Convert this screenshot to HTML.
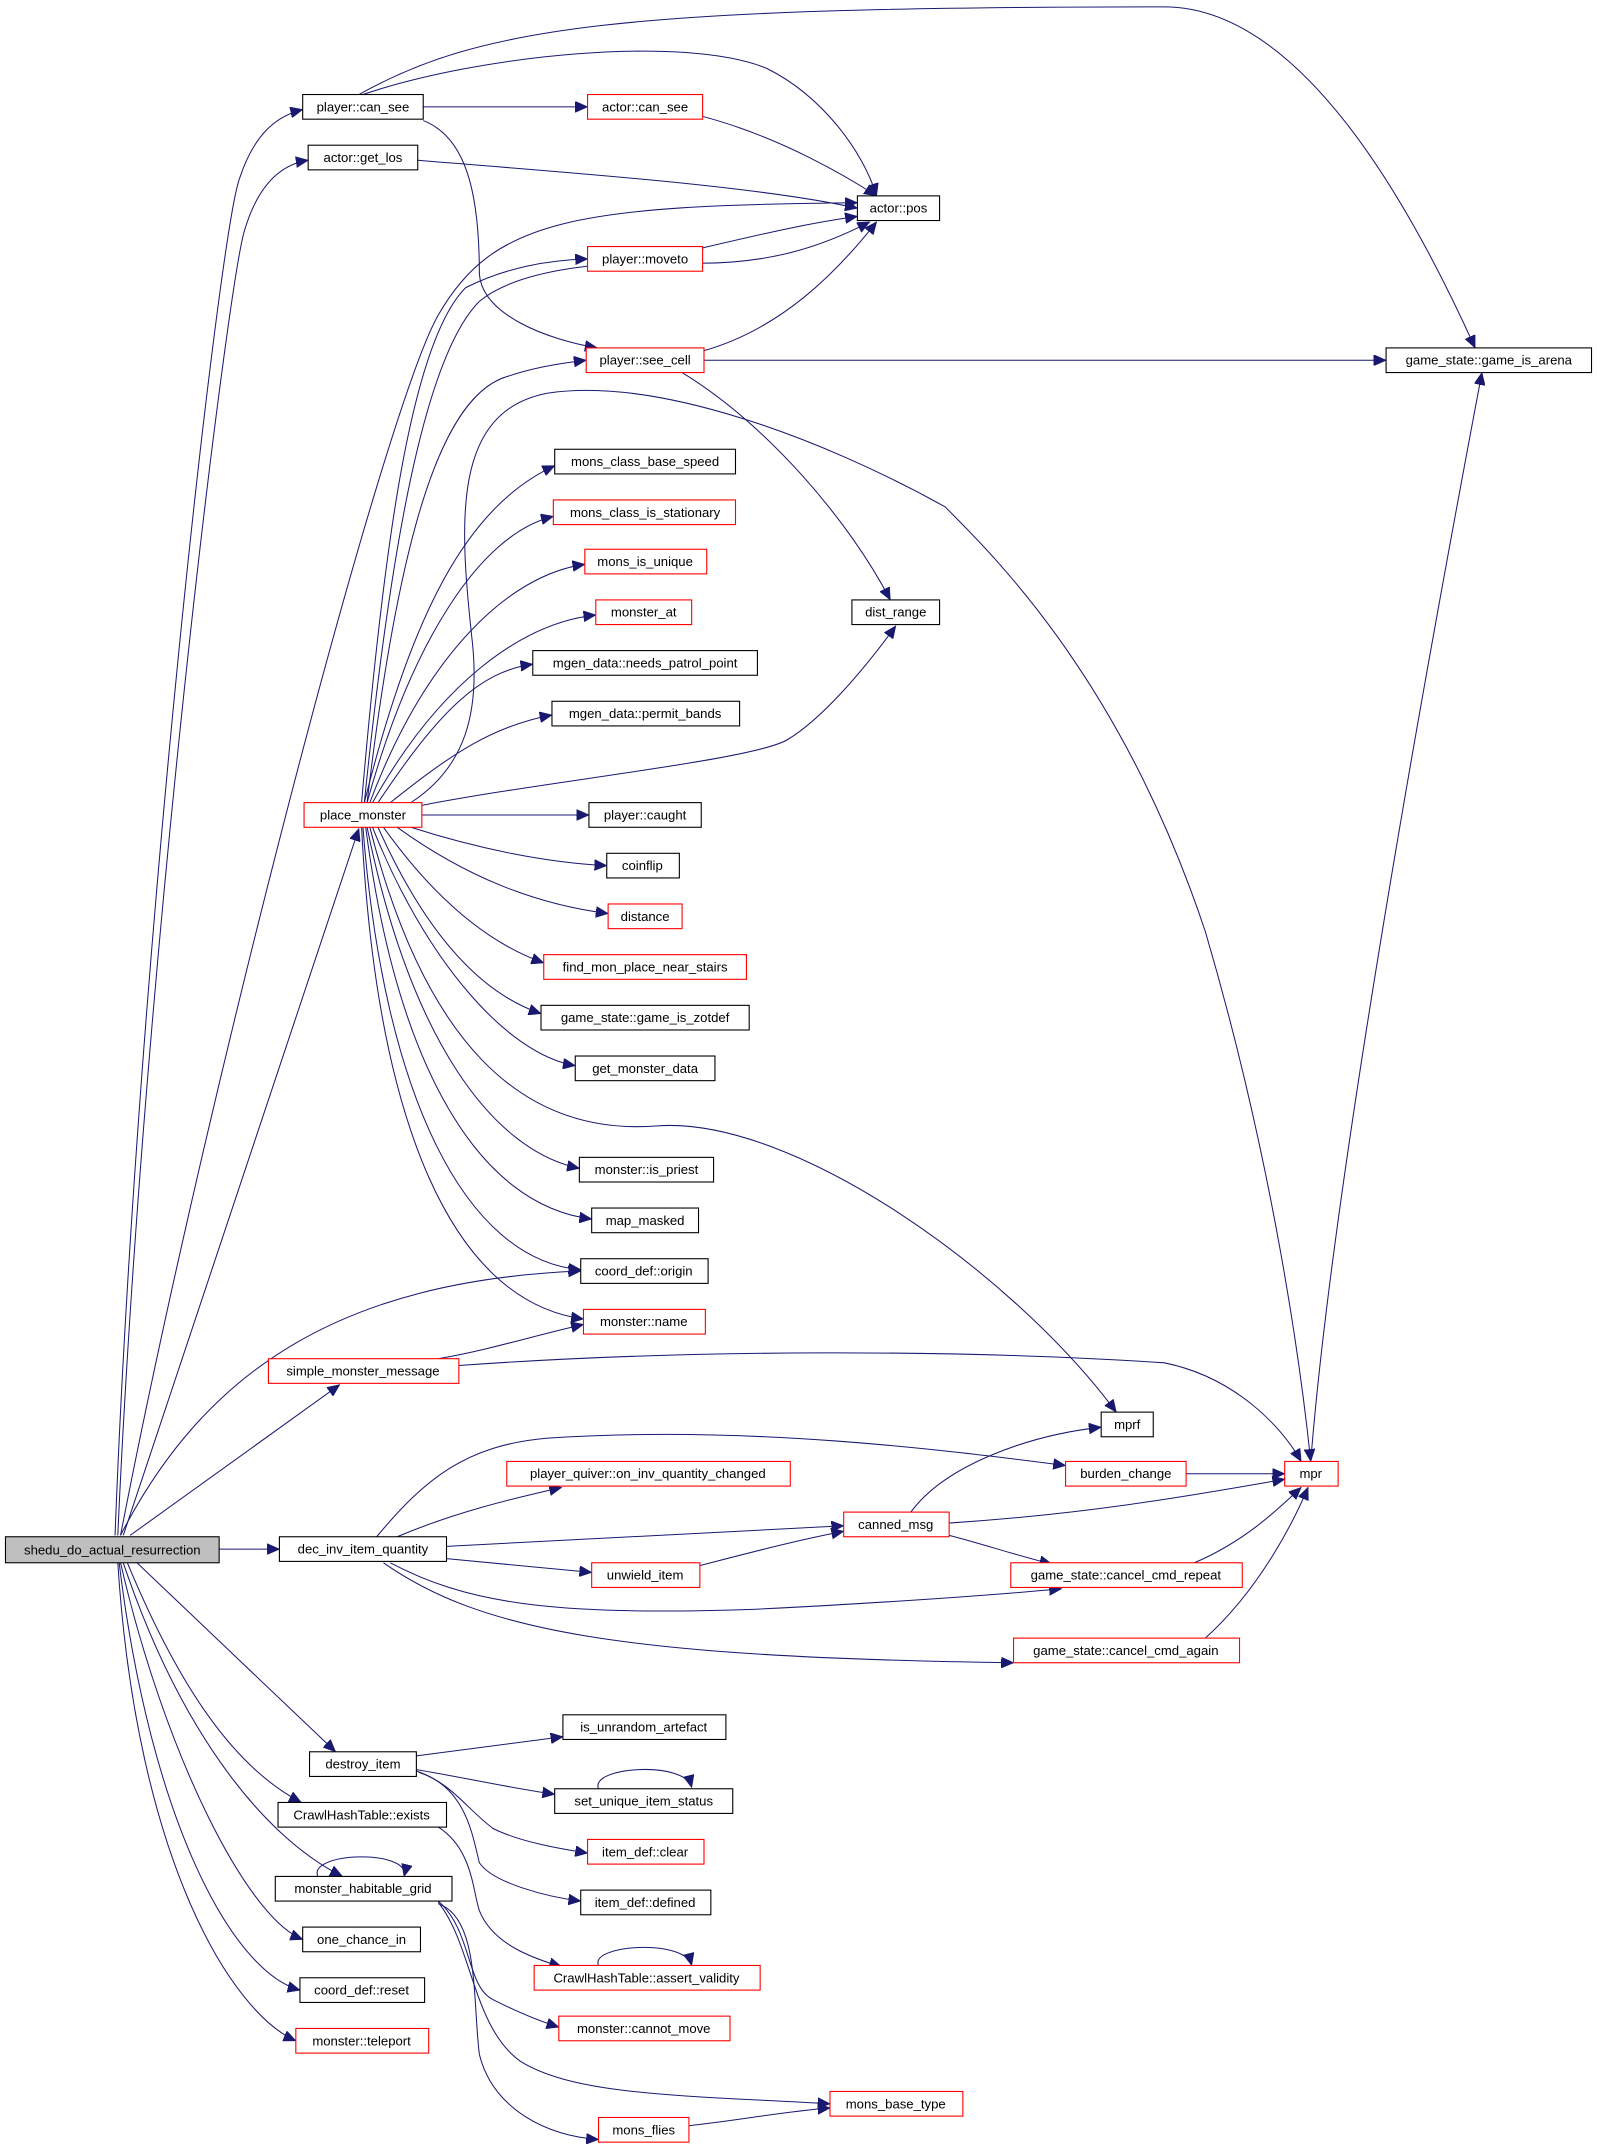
<!DOCTYPE html>
<html><head><meta charset="utf-8"><style>
html,body{margin:0;padding:0;background:#fff;}
svg{display:block;}
text{font-family:"Liberation Sans",sans-serif;font-size:9.6px;fill:#000;text-anchor:middle;dominant-baseline:central;}
.e{fill:none;stroke:#191970;stroke-width:0.75;marker-end:url(#a);}
.n{fill:#fff;stroke:#000;stroke-width:0.8;}
.r{fill:#fff;stroke:#ff0000;stroke-width:0.8;}
.g{fill:#bfbfbf;stroke:#000;stroke-width:0.8;}
</style></head><body>
<svg width="1597" height="2149" viewBox="0 0 1166 1569" xmlns="http://www.w3.org/2000/svg">
<defs><marker id="a" markerUnits="userSpaceOnUse" markerWidth="10" markerHeight="8" refX="9" refY="4" orient="auto"><path d="M0,0 L9,4 L0,8 Z" fill="#191970" stroke="#191970" stroke-width="0.5"/></marker></defs>
<g>
<path class="e" d="M84,1121 C100,700 160,170 175,130 C185,100 200,85 221,80"/>
<path class="e" d="M86,1121 C105,700 165,220 178,170 C188,135 205,120 225,117"/>
<path class="e" d="M88,1121 C150,800 280,300 320,230 C360,160 420,150 626,148"/>
<path class="e" d="M90,1121 L262,605"/>
<path class="e" d="M95,1121 L248,1011"/>
<path class="e" d="M88,1121 C150,1000 250,935 424,928"/>
<path class="e" d="M160,1131 L204,1131"/>
<path class="e" d="M100,1141 L245,1279"/>
<path class="e" d="M93,1141 C130,1230 170,1290 220,1316"/>
<path class="e" d="M90,1141 C130,1260 190,1340 250,1370"/>
<path class="e" d="M88,1141 C120,1280 180,1400 221,1416"/>
<path class="e" d="M87,1141 C110,1330 170,1440 219,1453"/>
<path class="e" d="M86,1141 C100,1360 170,1470 216,1490"/>
<path class="e" d="M309,78 L429,78"/>
<path class="e" d="M262,69 C350,20 450,5 850,5 C950,5 1030,150 1077,254"/>
<path class="e" d="M265,69 C350,40 500,25 560,50 C600,70 630,110 640,143"/>
<path class="e" d="M309,88 C340,100 350,140 350,200 C352,230 400,248 436,254"/>
<path class="e" d="M513,85 C570,100 620,130 640,143"/>
<path class="e" d="M305,117 C400,125 550,135 626,152"/>
<path class="e" d="M513,181 C560,170 590,163 626,158"/>
<path class="e" d="M514,256 C570,240 610,200 640,162"/>
<path class="e" d="M514,263 L1012,263"/>
<path class="e" d="M498,272 C560,310 620,380 650,438"/>
<path class="e" d="M957,1067 C970,900 1020,600 1082,272"/>
<path class="e" d="M264,586 C280,400 300,250 340,210 C370,195 400,190 429,189"/>
<path class="e" d="M266,586 C285,400 310,260 350,220 C380,195 450,190 500,192 C560,194 600,180 635,162"/>
<path class="e" d="M268,586 C290,400 320,290 370,275 C390,268 410,265 428,263"/>
<path class="e" d="M300,586 C340,560 350,520 345,470 C335,380 330,300 400,287 C480,275 600,320 690,370 C730,410 820,500 880,680 C930,850 950,1000 957,1067"/>
<path class="e" d="M266,586 C300,450 340,370 405,340"/>
<path class="e" d="M268,586 C300,470 350,390 404,377"/>
<path class="e" d="M270,586 C310,480 370,420 427,412"/>
<path class="e" d="M272,586 C320,500 380,455 435,449"/>
<path class="e" d="M276,586 C320,520 350,490 389,485"/>
<path class="e" d="M285,586 C330,550 360,530 403,522"/>
<path class="e" d="M308,588 C400,570 550,555 575,540 C600,525 630,490 654,457"/>
<path class="e" d="M308,595 L430,595"/>
<path class="e" d="M300,604 C350,620 400,630 443,632"/>
<path class="e" d="M290,604 C340,640 390,660 444,667"/>
<path class="e" d="M280,604 C320,660 360,690 397,703"/>
<path class="e" d="M276,604 C310,680 350,725 395,740"/>
<path class="e" d="M272,604 C310,700 370,770 420,778"/>
<path class="e" d="M270,604 C310,760 380,830 480,822 C580,815 740,930 815,1031"/>
<path class="e" d="M268,604 C300,760 360,840 423,853"/>
<path class="e" d="M267,604 C290,780 350,880 432,890"/>
<path class="e" d="M265,604 C280,800 340,920 424,927"/>
<path class="e" d="M264,604 C275,820 330,950 426,963"/>
<path class="e" d="M320,992 C360,985 390,975 426,967"/>
<path class="e" d="M335,997 C500,985 700,985 850,995 C900,1005 935,1040 950,1067"/>
<path class="e" d="M290,1122 C330,1105 370,1095 410,1086"/>
<path class="e" d="M275,1122 C310,1080 340,1055 400,1050 C550,1040 700,1060 778,1070"/>
<path class="e" d="M326,1129 L616,1114"/>
<path class="e" d="M326,1138 C370,1142 400,1145 432,1148"/>
<path class="e" d="M285,1141 C340,1170 400,1180 550,1175 C650,1170 720,1165 775,1160"/>
<path class="e" d="M280,1141 C350,1190 450,1210 740,1214"/>
<path class="e" d="M665,1104 C690,1070 750,1048 804,1042"/>
<path class="e" d="M693,1112 C800,1105 880,1090 938,1080"/>
<path class="e" d="M693,1121 C720,1128 740,1135 768,1142"/>
<path class="e" d="M511,1143 C550,1133 580,1125 616,1118"/>
<path class="e" d="M866,1076 L938,1076"/>
<path class="e" d="M872,1141 C910,1125 935,1100 950,1086"/>
<path class="e" d="M880,1196 C920,1160 945,1110 955,1086"/>
<path class="e" d="M304,1282 L411,1268"/>
<path class="e" d="M304,1292 C340,1298 370,1305 405,1310"/>
<path class="e" d="M304,1293 C330,1302 340,1320 360,1335 C380,1345 410,1350 429,1353"/>
<path class="e" d="M306,1294 C340,1305 345,1340 350,1360 C360,1375 400,1385 424,1388"/>
<path class="e" d="M437,1306 C430,1290 500,1285 505,1305"/>
<path class="e" d="M320,1334 C345,1350 345,1380 350,1395 C360,1420 390,1430 410,1436"/>
<path class="e" d="M437,1435 C430,1420 500,1415 505,1435"/>
<path class="e" d="M232,1370 C225,1352 300,1350 295,1370"/>
<path class="e" d="M320,1388 C345,1410 340,1450 360,1460 C380,1470 395,1476 408,1480"/>
<path class="e" d="M320,1389 C345,1420 345,1480 380,1505 C420,1530 500,1530 606,1536"/>
<path class="e" d="M320,1390 C350,1400 345,1460 350,1500 C360,1540 400,1560 437,1562"/>
<path class="e" d="M503,1552 C540,1548 570,1542 606,1539"/>
</g>
<g>
<rect class="g" x="4" y="1122" width="156" height="19"/><text x="82" y="1131.5">shedu_do_actual_resurrection</text>
<rect class="n" x="221" y="69" width="88" height="18"/><text x="265" y="78">player::can_see</text>
<rect class="n" x="225" y="106" width="80" height="18"/><text x="265" y="115">actor::get_los</text>
<rect class="r" x="429" y="69" width="84" height="18"/><text x="471" y="78">actor::can_see</text>
<rect class="n" x="626" y="143" width="60" height="18"/><text x="656" y="152">actor::pos</text>
<rect class="r" x="429" y="180" width="84" height="18"/><text x="471" y="189">player::moveto</text>
<rect class="r" x="428" y="254" width="86" height="18"/><text x="471" y="263">player::see_cell</text>
<rect class="n" x="1012" y="254" width="150" height="18"/><text x="1087" y="263">game_state::game_is_arena</text>
<rect class="n" x="405" y="328" width="132" height="18"/><text x="471" y="337">mons_class_base_speed</text>
<rect class="r" x="404" y="365" width="133" height="18"/><text x="471" y="374">mons_class_is_stationary</text>
<rect class="r" x="427" y="401" width="89" height="18"/><text x="471" y="410">mons_is_unique</text>
<rect class="r" x="435" y="438" width="70" height="18"/><text x="470" y="447">monster_at</text>
<rect class="n" x="622" y="438" width="64" height="18"/><text x="654" y="447">dist_range</text>
<rect class="n" x="389" y="475" width="164" height="18"/><text x="471" y="484">mgen_data::needs_patrol_point</text>
<rect class="n" x="403" y="512" width="137" height="18"/><text x="471" y="521">mgen_data::permit_bands</text>
<rect class="r" x="222" y="586" width="86" height="18"/><text x="265" y="595">place_monster</text>
<rect class="n" x="430" y="586" width="82" height="18"/><text x="471" y="595">player::caught</text>
<rect class="n" x="443" y="623" width="53" height="18"/><text x="469" y="632">coinflip</text>
<rect class="r" x="444" y="660" width="54" height="18"/><text x="471" y="669">distance</text>
<rect class="r" x="397" y="697" width="148" height="18"/><text x="471" y="706">find_mon_place_near_stairs</text>
<rect class="n" x="395" y="734" width="152" height="18"/><text x="471" y="743">game_state::game_is_zotdef</text>
<rect class="n" x="420" y="771" width="102" height="18"/><text x="471" y="780">get_monster_data</text>
<rect class="n" x="423" y="845" width="98" height="18"/><text x="472" y="854">monster::is_priest</text>
<rect class="n" x="432" y="882" width="78" height="18"/><text x="471" y="891">map_masked</text>
<rect class="n" x="424" y="919" width="93" height="18"/><text x="470" y="928">coord_def::origin</text>
<rect class="r" x="426" y="956" width="89" height="18"/><text x="470" y="965">monster::name</text>
<rect class="r" x="196" y="992" width="139" height="18"/><text x="265" y="1001">simple_monster_message</text>
<rect class="n" x="804" y="1031" width="38" height="18"/><text x="823" y="1040">mprf</text>
<rect class="r" x="370" y="1067" width="207" height="18"/><text x="473" y="1076">player_quiver::on_inv_quantity_changed</text>
<rect class="r" x="778" y="1067" width="88" height="18"/><text x="822" y="1076">burden_change</text>
<rect class="r" x="938" y="1067" width="39" height="18"/><text x="957" y="1076">mpr</text>
<rect class="r" x="616" y="1104" width="77" height="18"/><text x="654" y="1113">canned_msg</text>
<rect class="n" x="204" y="1122" width="122" height="18"/><text x="265" y="1131">dec_inv_item_quantity</text>
<rect class="r" x="432" y="1141" width="79" height="18"/><text x="471" y="1150">unwield_item</text>
<rect class="r" x="738" y="1141" width="169" height="18"/><text x="822" y="1150">game_state::cancel_cmd_repeat</text>
<rect class="r" x="740" y="1196" width="165" height="18"/><text x="822" y="1205">game_state::cancel_cmd_again</text>
<rect class="n" x="411" y="1252" width="119" height="18"/><text x="470" y="1261">is_unrandom_artefact</text>
<rect class="n" x="226" y="1279" width="78" height="18"/><text x="265" y="1288">destroy_item</text>
<rect class="n" x="405" y="1306" width="130" height="18"/><text x="470" y="1315">set_unique_item_status</text>
<rect class="n" x="203" y="1316" width="123" height="18"/><text x="264" y="1325">CrawlHashTable::exists</text>
<rect class="r" x="429" y="1343" width="85" height="18"/><text x="471" y="1352">item_def::clear</text>
<rect class="n" x="201" y="1370" width="129" height="18"/><text x="265" y="1379">monster_habitable_grid</text>
<rect class="n" x="424" y="1380" width="95" height="18"/><text x="471" y="1389">item_def::defined</text>
<rect class="n" x="221" y="1407" width="86" height="18"/><text x="264" y="1416">one_chance_in</text>
<rect class="r" x="390" y="1435" width="165" height="18"/><text x="472" y="1444">CrawlHashTable::assert_validity</text>
<rect class="n" x="219" y="1444" width="91" height="18"/><text x="264" y="1453">coord_def::reset</text>
<rect class="r" x="408" y="1472" width="125" height="18"/><text x="470" y="1481">monster::cannot_move</text>
<rect class="r" x="216" y="1481" width="97" height="18"/><text x="264" y="1490">monster::teleport</text>
<rect class="r" x="606" y="1527" width="97" height="18"/><text x="654" y="1536">mons_base_type</text>
<rect class="r" x="437" y="1546" width="66" height="18"/><text x="470" y="1555">mons_flies</text>
</g>
</svg>
</body></html>
